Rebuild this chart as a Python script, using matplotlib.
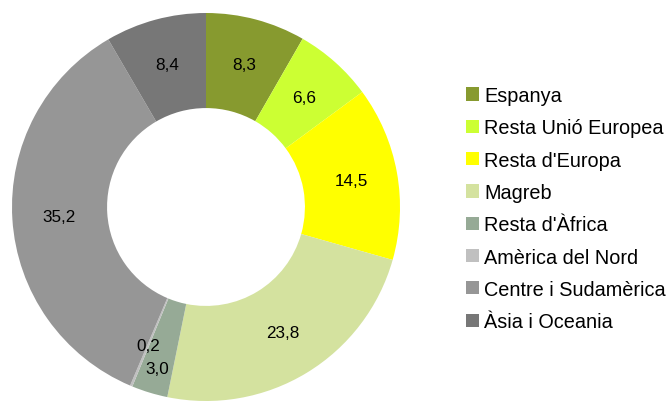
import matplotlib
matplotlib.use('Agg')
import matplotlib.pyplot as plt
import numpy as np
from matplotlib.patches import Patch

plt.rcParams['font.family'] = ['Liberation Sans', 'DejaVu Sans']

# data
categories = ['Espanya', 'Resta Unió Europea', "Resta d'Europa", 'Magreb',
              "Resta d'Àfrica", 'Amèrica del Nord', 'Centre i Sudamèrica', 'Àsia i Oceania']
values = [8.3, 6.6, 14.5, 23.8, 3.0, 0.2, 35.2, 8.4]
colors = ['#879A2F', '#CCFF33', '#FFFF00', '#D4E29F',
          '#96AA96', '#C0C0C0', '#969696', '#777777']
# radial position of each value label (fraction of outer radius)
label_dist = [0.76, 0.76, 0.76, 0.76, 0.87, 0.775, 0.76, 0.76]

fig = plt.figure(figsize=(6.70, 4.02), dpi=100)
# square axes box centred on the donut (pixels: centre ~ (206, 208), radius ~194)
ax = fig.add_axes([12/670, (402-208-194)/402, 388/670, 388/402])

wedges, _ = ax.pie(values, colors=colors, startangle=90, counterclock=False,
                   radius=1.0, wedgeprops=dict(width=0.49, linewidth=0))
ax.set_xlim(-1, 1)
ax.set_ylim(-1, 1)
ax.set_aspect('auto')
ax.axis('off')

# value labels, decimal comma
for w, v, d in zip(wedges, values, label_dist):
    ang = np.deg2rad((w.theta1 + w.theta2) / 2)
    txt = f'{v:.1f}'.replace('.', ',')
    ax.text(d*np.cos(ang), d*np.sin(ang), txt, ha='center', va='center', fontsize=12.3)

handles = [Patch(facecolor=c, edgecolor='none') for c in colors]
fig.legend(handles, categories, loc='upper left', bbox_to_anchor=(466/670, 1 - 87/402),
           frameon=False, fontsize=14.3, labelspacing=0.67, handlelength=0.65,
           handleheight=0.65, handletextpad=0.25, borderaxespad=0, borderpad=0)

plt.savefig('out.png', dpi=100)
